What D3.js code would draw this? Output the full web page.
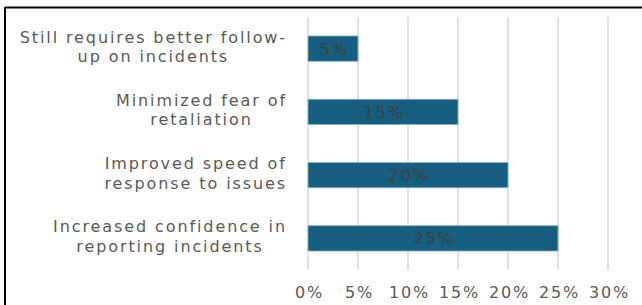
<!DOCTYPE html>
<html>
<head>
<meta charset="utf-8">
<script src="https://cdn.jsdelivr.net/npm/d3@7"></script>
<style>
	body { margin: 0; background: #fff; }
	svg text { font-family: "DejaVu Sans", sans-serif; }
</style>
</head>
<body>
<div id="chart"></div>
<script>
// Categories top to bottom, each split into its two printed lines
var categories = [
	["Still requires better follow-", "up on incidents"],
	["Minimized fear of", "retaliation"],
	["Improved speed of", "response to issues"],
	["Increased confidence in", "reporting incidents"]
];
var values = [5, 15, 20, 25];
var tickValues = [0, 5, 10, 15, 20, 25, 30];

var width = 642, height = 305;
var plot = { left: 308, right: 608, top: 17, bottom: 270 };

var svg = d3.select("#chart").append("svg")
	.attr("width", width)
	.attr("height", height);

// frame (top + left edges visible)
svg.append("line")
	.attr("x1", 5).attr("x2", width).attr("y1", 7.5).attr("y2", 7.5)
	.attr("stroke", "#000").attr("stroke-width", 2);
svg.append("line")
	.attr("x1", 5).attr("x2", 5).attr("y1", 7).attr("y2", height)
	.attr("stroke", "#000").attr("stroke-width", 2);

var x = d3.scaleLinear()
	.domain([0, 30])
	.range([plot.left, plot.right]);

var y = d3.scaleBand()
	.domain(d3.range(categories.length))
	.range([plot.top, plot.bottom])
	.paddingInner(0.6)
	.paddingOuter(0.3);

// gridlines
svg.selectAll("line.grid")
	.data(tickValues)
	.enter()
	.append("line")
	.attr("class", "grid")
	.attr("x1", function(d) { return x(d); })
	.attr("x2", function(d) { return x(d); })
	.attr("y1", plot.top)
	.attr("y2", plot.bottom)
	.attr("stroke", "#d9d9d9")
	.attr("stroke-width", 1.5);

// x axis labels
var xAxis = d3.axisBottom(x)
	.tickValues(tickValues)
	.tickFormat(function(d) { return d + "%"; })
	.tickSize(0)
	.tickPadding(0);

var axisG = svg.append("g")
	.attr("transform", "translate(0," + 298 + ")")
	.call(xAxis);
axisG.select(".domain").remove();
axisG.selectAll("text")
	.attr("fill", "#595959")
	.attr("font-size", "16px")
	.attr("letter-spacing", "1.8px")
	.attr("dx", "0.9px")
	.attr("dy", 0);

// bars
svg.selectAll("rect.bar")
	.data(values)
	.enter()
	.append("rect")
	.attr("class", "bar")
	.attr("x", x(0))
	.attr("y", function(d, i) { return y(i); })
	.attr("width", function(d) { return x(d) - x(0); })
	.attr("height", y.bandwidth())
	.attr("fill", "#165f80")
	.attr("stroke", "#8fb3c4")
	.attr("stroke-width", 0.8);

// value labels
svg.selectAll("text.value")
	.data(values)
	.enter()
	.append("text")
	.attr("class", "value")
	.attr("x", function(d) { return (x(0) + x(d)) / 2 + 1; })
	.attr("y", function(d, i) { return y(i) + y.bandwidth() / 2; })
	.attr("dy", "0.38em")
	.attr("text-anchor", "middle")
	.attr("font-size", "16px")
	.attr("letter-spacing", "1.8px")
	.attr("fill", "#404040")
	.text(function(d) { return d + "%"; });

// category labels: centred block, right edge at ~286
var labelRight = 287, lineGap = 19.5;
categories.forEach(function(lines, i) {
	var g = svg.append("g");
	var cy = y(i) + y.bandwidth() / 2;
	var texts = g.selectAll("text")
		.data(lines)
		.enter()
		.append("text")
		.attr("text-anchor", "middle")
		.attr("font-size", "16px")
		.attr("letter-spacing", "1.9px")
		.attr("fill", "#595959")
		.attr("y", function(d, j) { return cy - 6 + j * lineGap; })
		.text(function(d) { return d; });
	var maxW = 0;
	texts.each(function() { maxW = Math.max(maxW, this.getComputedTextLength()); });
	texts.attr("x", labelRight - maxW / 2);
});
</script>
</body>
</html>
